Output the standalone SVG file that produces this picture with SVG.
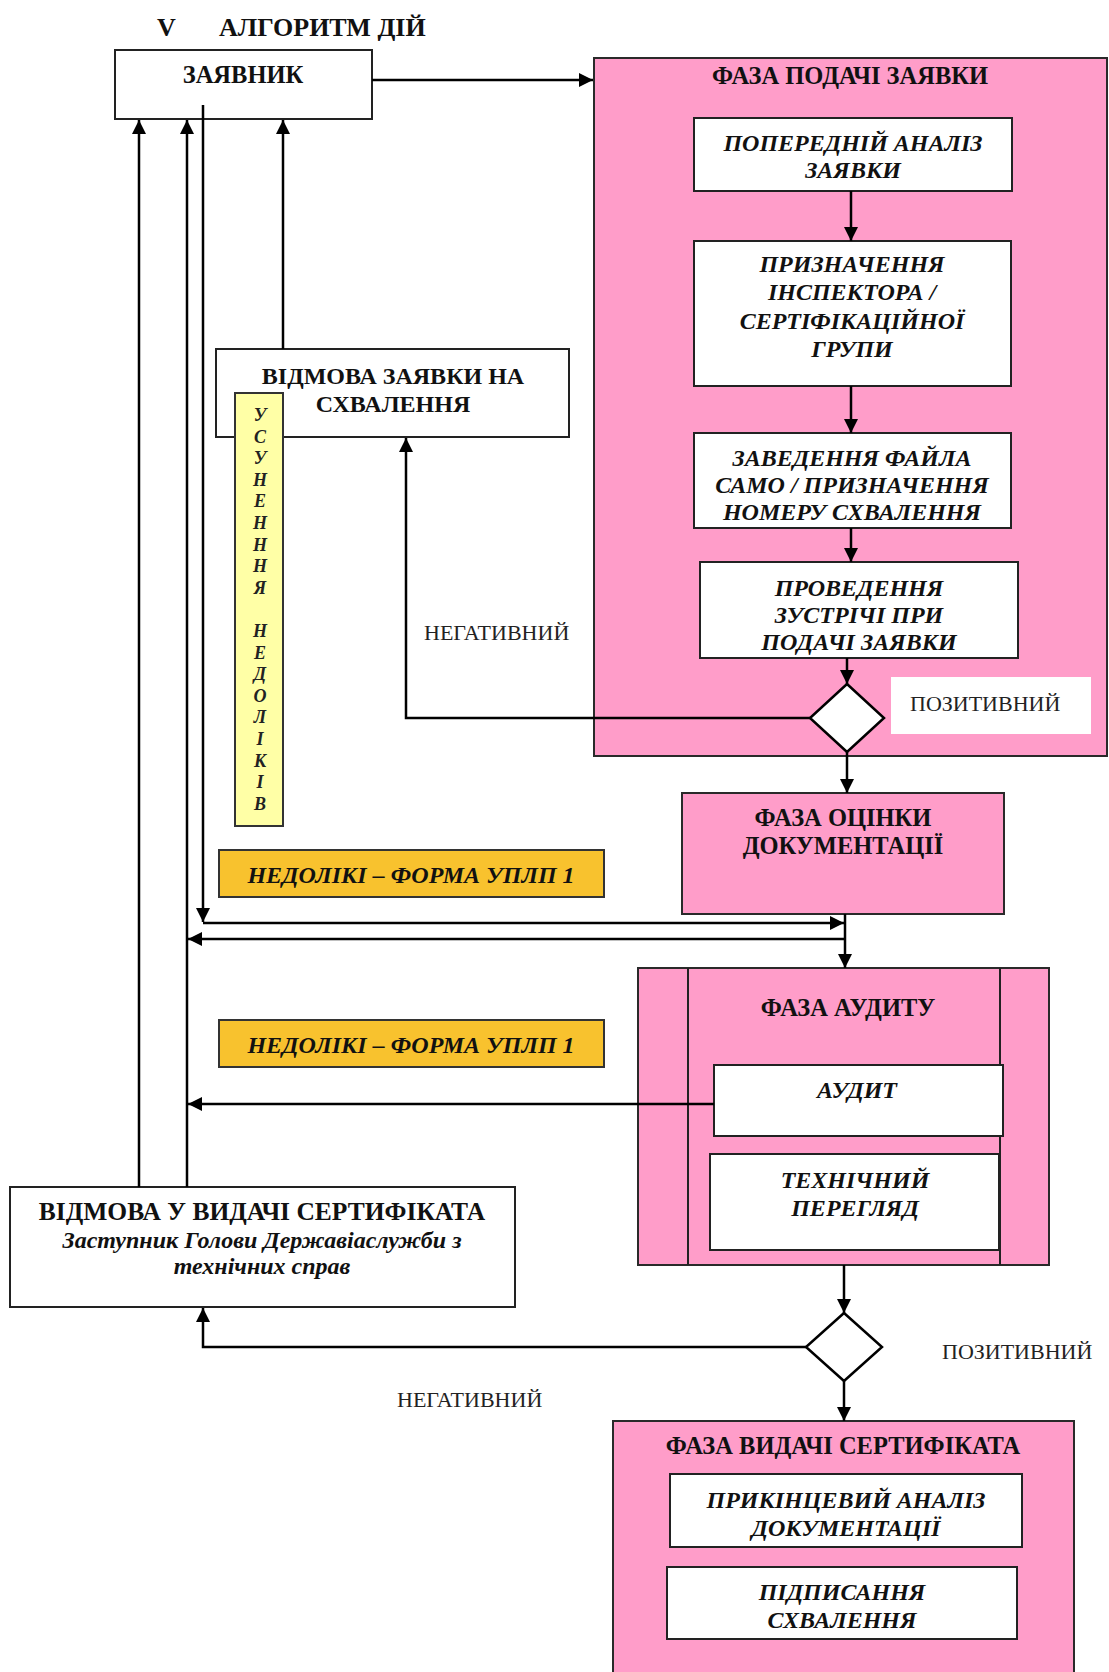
<svg xmlns="http://www.w3.org/2000/svg" width="1109" height="1672" viewBox="0 0 1109 1672">
<defs>
<marker id="ah" markerUnits="userSpaceOnUse" markerWidth="14" markerHeight="14" viewBox="0 0 14 14" refX="14" refY="7" orient="auto">
<path d="M0,0 L14,7 L0,14 z" fill="#000"/>
</marker>
<style>
.box{fill:#fff;stroke:#222;stroke-width:2}
.pink{fill:#FF9DC9;stroke:#2a2a2a;stroke-width:2}
.orange{fill:#F8C22E;stroke:#333;stroke-width:2}
.yellow{fill:#FFFFA6;stroke:#333;stroke-width:2}
.h{font-family:"Liberation Serif","Times New Roman",serif;font-weight:bold;font-size:24.5px;fill:#111;text-anchor:middle}
.i{font-family:"Liberation Serif","Times New Roman",serif;font-weight:bold;font-style:italic;font-size:24px;fill:#111;text-anchor:middle}
.lab{font-family:"Liberation Serif","Times New Roman",serif;font-size:22px;fill:#222}
.v{font-family:"Liberation Serif","Times New Roman",serif;font-weight:bold;font-style:italic;font-size:18px;fill:#222;text-anchor:middle}
.c{fill:none;stroke:#000;stroke-width:2.5}
.d{fill:#fff;stroke:#000;stroke-width:2.5}
</style>
</defs>
<rect width="1109" height="1672" fill="#fff"/>

<g id="title">
<text x="157" y="36" class="h" style="text-anchor:start;font-size:26px">V</text>
<text x="219" y="36" class="h" style="text-anchor:start;font-size:26px">АЛГОРИТМ ДІЙ</text>
</g>

<g id="phase-application">
<rect class="pink" x="594" y="58" width="513" height="698"/>
<text class="h" x="850" y="84">ФАЗА ПОДАЧІ ЗАЯВКИ</text>
</g>
<g id="positive-label-1">
<rect x="891" y="677" width="200" height="57" fill="#fff"/>
<text class="lab" x="910" y="711">ПОЗИТИВНИЙ</text>
</g>

<g id="applicant">
<rect class="box" x="115" y="50" width="257" height="69"/>
<text class="h" x="243" y="83">ЗАЯВНИК</text>
</g>

<g id="prelim-analysis">
<rect class="box" x="694" y="118" width="318" height="73"/>
<text class="i" x="853" y="151">ПОПЕРЕДНІЙ АНАЛІЗ</text>
<text class="i" x="853" y="178">ЗАЯВКИ</text>
</g>
<g id="assign-inspector">
<rect class="box" x="694" y="241" width="317" height="145"/>
<text class="i" x="852" y="272">ПРИЗНАЧЕННЯ</text>
<text class="i" x="852" y="300">ІНСПЕКТОРА /</text>
<text class="i" x="852" y="329">СЕРТІФІКАЦІЙНОЇ</text>
<text class="i" x="852" y="357">ГРУПИ</text>
</g>
<g id="file-setup">
<rect class="box" x="694" y="433" width="317" height="95"/>
<text class="i" x="852" y="466">ЗАВЕДЕННЯ ФАЙЛА</text>
<text class="i" x="852" y="493">САМО / ПРИЗНАЧЕННЯ</text>
<text class="i" x="852" y="520">НОМЕРУ СХВАЛЕННЯ</text>
</g>
<g id="meeting">
<rect class="box" x="700" y="562" width="318" height="96"/>
<text class="i" x="859" y="596">ПРОВЕДЕННЯ</text>
<text class="i" x="859" y="623">ЗУСТРІЧІ ПРИ</text>
<text class="i" x="859" y="650">ПОДАЧІ ЗАЯВКИ</text>
</g>
<g id="decision-1">
<polygon class="d" points="847,684 884,718 847,752 810,718"/>
</g>

<g id="reject-application">
<rect class="box" x="216" y="349" width="353" height="88"/>
<text class="h" x="393" y="384" style="font-size:24px">ВІДМОВА ЗАЯВКИ НА</text>
<text class="h" x="393" y="412" style="font-size:24px">СХВАЛЕННЯ</text>
</g>
<g id="fix-deficiencies">
<rect class="yellow" x="235" y="393" width="48" height="433"/>
<text class="v" x="260" y="421">У</text>
<text class="v" x="260" y="443">С</text>
<text class="v" x="260" y="464">У</text>
<text class="v" x="260" y="486">Н</text>
<text class="v" x="260" y="507">Е</text>
<text class="v" x="260" y="529">Н</text>
<text class="v" x="260" y="551">Н</text>
<text class="v" x="260" y="572">Н</text>
<text class="v" x="260" y="594">Я</text>
<text class="v" x="260" y="637">Н</text>
<text class="v" x="260" y="659">Е</text>
<text class="v" x="260" y="680">Д</text>
<text class="v" x="260" y="702">О</text>
<text class="v" x="260" y="723">Л</text>
<text class="v" x="260" y="745">І</text>
<text class="v" x="260" y="767">К</text>
<text class="v" x="260" y="788">І</text>
<text class="v" x="260" y="810">В</text>
</g>
<g id="negative-label-1">
<text class="lab" x="424" y="640">НЕГАТИВНИЙ</text>
</g>

<g id="phase-doc-eval">
<rect class="pink" x="682" y="793" width="322" height="121"/>
<text class="h" x="843" y="826">ФАЗА ОЦІНКИ</text>
<text class="h" x="843" y="854">ДОКУМЕНТАЦІЇ</text>
</g>
<g id="deficiencies-1">
<rect class="orange" x="219" y="850" width="385" height="47"/>
<text class="i" x="411" y="883">НЕДОЛІКІ – ФОРМА УПЛП 1</text>
</g>
<g id="deficiencies-2">
<rect class="orange" x="219" y="1020" width="385" height="47"/>
<text class="i" x="411" y="1053">НЕДОЛІКІ – ФОРМА УПЛП 1</text>
</g>

<g id="phase-audit">
<rect class="pink" x="638" y="968" width="411" height="297"/>
<line x1="688" y1="968" x2="688" y2="1265" stroke="#222" stroke-width="2"/>
<line x1="1000" y1="968" x2="1000" y2="1265" stroke="#222" stroke-width="2"/>
<text class="h" x="848" y="1016">ФАЗА АУДИТУ</text>
</g>
<g id="audit">
<rect class="box" x="714" y="1065" width="289" height="71"/>
<text class="i" x="857" y="1098">АУДИТ</text>
</g>
<g id="tech-review">
<rect class="box" x="710" y="1154" width="289" height="96"/>
<text class="i" x="855" y="1188">ТЕХНІЧНИЙ</text>
<text class="i" x="855" y="1216">ПЕРЕГЛЯД</text>
</g>
<g id="decision-2">
<polygon class="d" points="844,1313 882,1347 844,1381 806,1347"/>
</g>
<g id="positive-label-2">
<text class="lab" x="942" y="1359">ПОЗИТИВНИЙ</text>
</g>
<g id="negative-label-2">
<text class="lab" x="397" y="1407">НЕГАТИВНИЙ</text>
</g>

<g id="reject-certificate">
<rect class="box" x="10" y="1187" width="505" height="120"/>
<text class="h" x="262" y="1220" style="font-size:25.5px">ВІДМОВА У ВИДАЧІ СЕРТИФІКАТА</text>
<text class="i" x="262" y="1248">Заступник Голови Державіаслужби з</text>
<text class="i" x="262" y="1274">технічних справ</text>
</g>

<g id="phase-issue">
<rect class="pink" x="613" y="1421" width="461" height="270"/>
<text class="h" x="843" y="1454">ФАЗА ВИДАЧІ СЕРТИФІКАТА</text>
</g>
<g id="final-analysis">
<rect class="box" x="670" y="1474" width="352" height="73"/>
<text class="i" x="846" y="1508">ПРИКІНЦЕВИЙ АНАЛІЗ</text>
<text class="i" x="846" y="1536">ДОКУМЕНТАЦІЇ</text>
</g>
<g id="signing">
<rect class="box" x="667" y="1567" width="350" height="72"/>
<text class="i" x="842" y="1600">ПІДПИСАННЯ</text>
<text class="i" x="842" y="1628">СХВАЛЕННЯ</text>
</g>

<g id="connectors">
<line class="c" x1="372" y1="80" x2="593" y2="80" marker-end="url(#ah)"/>
<line class="c" x1="851" y1="191" x2="851" y2="241" marker-end="url(#ah)"/>
<line class="c" x1="851" y1="386" x2="851" y2="433" marker-end="url(#ah)"/>
<line class="c" x1="851" y1="528" x2="851" y2="562" marker-end="url(#ah)"/>
<line class="c" x1="847" y1="658" x2="847" y2="684" marker-end="url(#ah)"/>
<polyline class="c" points="810,718 406,718 406,438" marker-end="url(#ah)"/>
<line class="c" x1="847" y1="752" x2="847" y2="793" marker-end="url(#ah)"/>
<line class="c" x1="283" y1="349" x2="283" y2="120" marker-end="url(#ah)"/>
<line class="c" x1="139" y1="1187" x2="139" y2="120" marker-end="url(#ah)"/>
<line class="c" x1="187" y1="1187" x2="187" y2="120" marker-end="url(#ah)"/>
<line class="c" x1="203" y1="105" x2="203" y2="922" marker-end="url(#ah)"/>
<line class="c" x1="203" y1="923" x2="844" y2="923" marker-end="url(#ah)"/>
<line class="c" x1="845" y1="939" x2="188" y2="939" marker-end="url(#ah)"/>
<line class="c" x1="845" y1="914" x2="845" y2="968" marker-end="url(#ah)"/>
<line class="c" x1="714" y1="1104" x2="188" y2="1104" marker-end="url(#ah)"/>
<line class="c" x1="844" y1="1265" x2="844" y2="1313" marker-end="url(#ah)"/>
<polyline class="c" points="806,1347 203,1347 203,1308" marker-end="url(#ah)"/>
<line class="c" x1="844" y1="1381" x2="844" y2="1421" marker-end="url(#ah)"/>
</g>
</svg>
